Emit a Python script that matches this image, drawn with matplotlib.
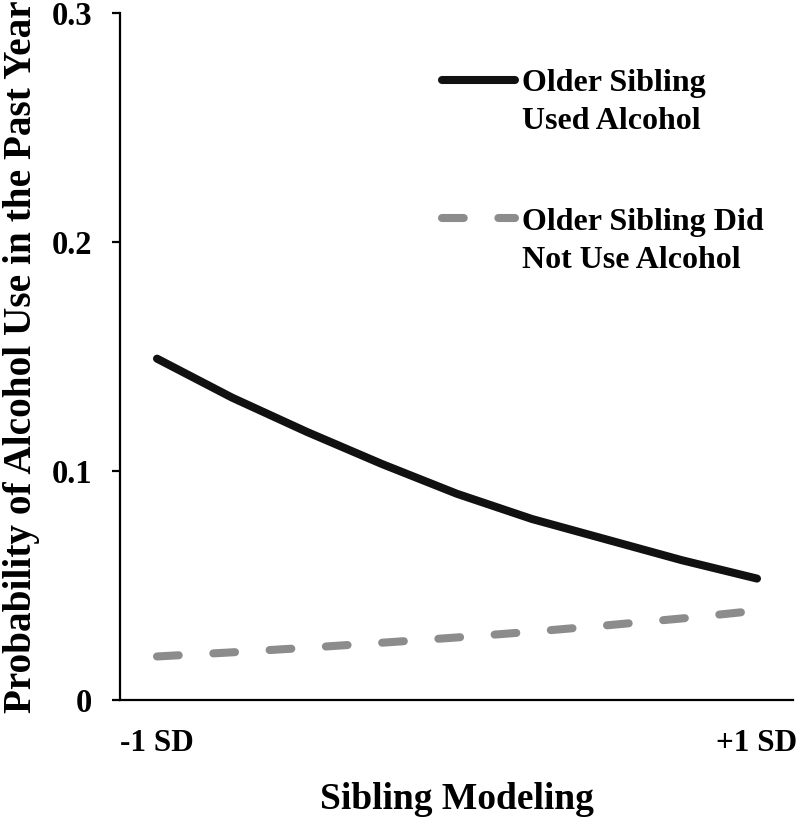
import matplotlib
matplotlib.use('Agg')
import matplotlib.pyplot as plt

plt.rcParams['font.family'] = ['Liberation Serif', 'DejaVu Serif']
plt.rcParams['font.weight'] = 'bold'

# data
x = [-1, -0.75, -0.5, -0.25, 0, 0.25, 0.5, 0.75, 1]
used = [0.149, 0.132, 0.117, 0.103, 0.090, 0.079, 0.070, 0.061, 0.053]
not_used = [0.019, 0.0208, 0.0228, 0.0250, 0.0273, 0.0298, 0.0326, 0.0356, 0.039]
xtick_pos = [-1, 1]
xtick_lab = ['-1 SD', '+1 SD']
yticks = [0, 0.1, 0.2, 0.3]
ytick_lab = ['0', '0.1', '0.2', '0.3']
leg_used = ['Older Sibling', 'Used Alcohol']
leg_not = ['Older Sibling Did', 'Not Use Alcohol']

fig = plt.figure(figsize=(7.99, 8.19), dpi=100)
ax = fig.add_axes([0.1502, 0.1453, 0.8423, 0.8392])

ax.plot(x, used, color='#111111', lw=5.8, solid_capstyle='round')
ax.plot(x, not_used, color='#8c8c8c', lw=5.8, dashes=(2.7, 4.3),
        dash_capstyle='round')

ax.set_xlim(-1.1233, 1.12)
ax.set_ylim(0, 0.3)
ax.spines['top'].set_visible(False)
ax.spines['right'].set_visible(False)
ax.spines['left'].set_linewidth(1.6)
ax.spines['bottom'].set_linewidth(1.6)

ax.set_xticks(xtick_pos)
ax.set_xticklabels(xtick_lab, fontsize=22.5, fontweight='bold')
ax.tick_params(axis='x', length=0, pad=21)
ax.set_yticks(yticks)
ax.set_yticklabels(ytick_lab, fontsize=23.5, fontweight='bold')
ax.tick_params(axis='y', length=6, width=1.6, pad=14)

ax.set_xlabel('Sibling Modeling', fontsize=27, fontweight='bold', labelpad=17)
ax.set_ylabel('Probability of Alcohol Use in the Past Year', fontsize=28.3,
              fontweight='bold', labelpad=8)

# legend drawn by hand so the sample sits on the first text line
tr = ax.transAxes
ax.plot([0.4785, 0.587], [0.902, 0.902], transform=tr, color='#111111',
        lw=5.8, solid_capstyle='round', clip_on=False)
ax.plot([0.4785, 0.587], [0.701, 0.701], transform=tr, color='#8c8c8c',
        lw=5.8, dashes=(2.7, 4.3), dash_capstyle='round', clip_on=False)
for txt, yb in zip(leg_used, [0.886, 0.831]):
    ax.text(0.5973, yb, txt, transform=tr, fontsize=23, fontweight='bold',
            va='baseline', ha='left')
for txt, yb in zip(leg_not, [0.684, 0.6286]):
    ax.text(0.5973, yb, txt, transform=tr, fontsize=23, fontweight='bold',
            va='baseline', ha='left')

fig.savefig('out.png', dpi=100)
